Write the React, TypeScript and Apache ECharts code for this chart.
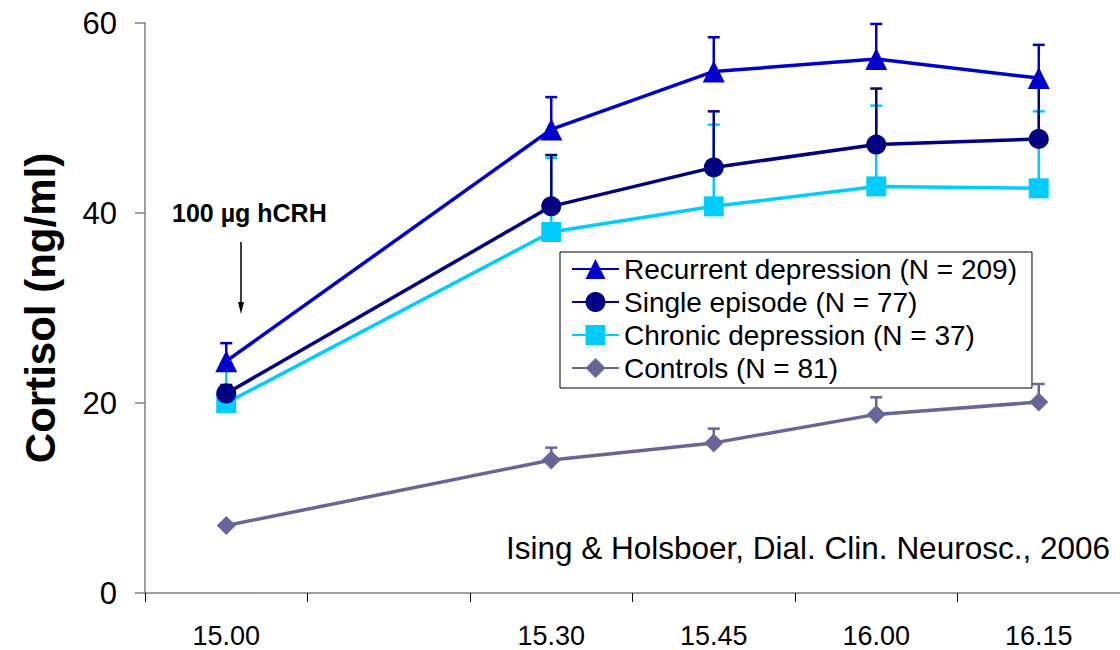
import React, { useEffect, useRef } from "react";
import * as echarts from "echarts";

// Sampling times (the 15.15 slot has no measurement)
const timeLabels = ["15.00", "", "15.30", "15.45", "16.00", "16.15"];

// Mean cortisol (ng/ml) per group
const recurrentMean = [24.4, null, 48.8, 54.9, 56.2, 54.2];
const singleMean = [21.0, null, 40.7, 44.8, 47.2, 47.8];
const chronicMean = [20.0, null, 38.0, 40.7, 42.8, 42.6];
const controlsMean = [7.1, null, 14.0, 15.8, 18.8, 20.1];

// Upper end of the error bar (mean + SEM)
const recurrentUpper = [26.3, null, 52.2, 58.5, 59.9, 57.7];
const singleUpper = [21.9, null, 46.1, 50.7, 53.1, 53.6];
const chronicUpper = [24.0, null, 45.8, 49.3, 51.3, 50.7];
const controlsUpper = [7.3, null, 15.3, 17.3, 20.6, 22.0];

const yTicks = [0, 20, 40, 60];

const FONT = 'Arial, "Liberation Sans", Helvetica, sans-serif';

type Group = {
  name: string;
  color: string;
  symbol: string;
  symbolSize: number;
  mean: (number | null)[];
  upper: (number | null)[];
};

const groups: Group[] = [
  { name: "Recurrent depression (N = 209)", color: "#0000CC", symbol: "triangle", symbolSize: 22, mean: recurrentMean, upper: recurrentUpper },
  { name: "Single episode (N = 77)", color: "#000080", symbol: "circle", symbolSize: 20, mean: singleMean, upper: singleUpper },
  { name: "Chronic depression (N = 37)", color: "#00CCFF", symbol: "rect", symbolSize: 20, mean: chronicMean, upper: chronicUpper },
  { name: "Controls (N = 81)", color: "#666699", symbol: "diamond", symbolSize: 19, mean: controlsMean, upper: controlsUpper },
];

function errorSeries(g: Group, z: number) {
  const data: number[][] = [];
  g.mean.forEach((m, i) => {
    const u = g.upper[i];
    if (m != null && u != null) data.push([i, m, u]);
  });
  return {
    type: "custom",
    name: g.name + " SEM",
    z,
    silent: true,
    data,
    renderItem: (params: any, api: any) => {
      const i = api.value(0);
      const lo = api.coord([i, api.value(1)]);
      const hi = api.coord([i, api.value(2)]);
      const cap = 6;
      return {
        type: "group",
        children: [
          {
            type: "line",
            shape: { x1: lo[0], y1: lo[1], x2: hi[0], y2: hi[1] },
            style: { stroke: g.color, lineWidth: 2.5 },
          },
          {
            type: "line",
            shape: { x1: hi[0] - cap, y1: hi[1], x2: hi[0] + cap, y2: hi[1] },
            style: { stroke: g.color, lineWidth: 2.5 },
          },
        ],
      };
    },
  };
}

function lineSeries(g: Group, z: number) {
  return {
    type: "line",
    name: g.name,
    z,
    data: g.mean,
    connectNulls: true,
    symbol: g.symbol,
    symbolSize: g.symbolSize,
    showAllSymbol: true,
    itemStyle: { color: g.color, borderWidth: 0 },
    lineStyle: { color: g.color, width: 3.5 },
  };
}

export default function App() {
  const ref = useRef<HTMLDivElement>(null);

  useEffect(() => {
    if (!ref.current) return;
    const chart = echarts.init(ref.current, undefined, { renderer: "svg" });

    const series: any[] = [];
    // draw order: controls first, recurrent on top
    const order = [3, 2, 1, 0];
    order.forEach((gi, k) => {
      series.push(errorSeries(groups[gi], 2 + k * 2));
    });
    order.forEach((gi, k) => {
      series.push(lineSeries(groups[gi], 10 + k * 2));
    });

    chart.setOption({
      animation: false,
      backgroundColor: "#ffffff",
      textStyle: { fontFamily: FONT },
      grid: { left: 145, right: -12, top: 23, bottom: 57, containLabel: false },
      legend: {
        data: groups.map((g) => g.name),
        orient: "vertical",
        left: 560,
        top: 252,
        padding: [3, 15, 6, 11],
        itemWidth: 47,
        itemHeight: 25,
        itemGap: 5,
        backgroundColor: "#ffffff",
        borderColor: "#000000",
        borderWidth: 1,
        textStyle: { fontFamily: FONT, fontSize: 28, color: "#000000" },
      },
      xAxis: {
        type: "category",
        data: timeLabels,
        boundaryGap: true,
        axisLine: { lineStyle: { color: "#808080", width: 1.5 } },
        axisTick: { show: true, alignWithLabel: false, length: 9, lineStyle: { color: "#000000", width: 1 }, inside: false },
        axisLabel: { fontFamily: FONT, fontSize: 27, color: "#000000", margin: 29, interval: 0 },
        splitLine: { show: false },
      },
      yAxis: {
        type: "value",
        min: 0,
        max: 60,
        interval: 20,
        name: "Cortisol (ng/ml)",
        nameLocation: "middle",
        nameGap: 84,
        nameRotate: 90,
        nameTextStyle: { fontFamily: FONT, fontSize: 42, fontWeight: "bold", color: "#000000" },
        axisLine: { show: true, lineStyle: { color: "#808080", width: 1.5 } },
        axisTick: { show: true, length: 10, lineStyle: { color: "#808080", width: 1.5 } },
        axisLabel: {
          fontFamily: FONT,
          fontSize: 31,
          color: "#000000",
          margin: 28,
          formatter: (v: number) => (yTicks.includes(v) ? String(v) : ""),
        },
        splitLine: { show: false },
      },
      graphic: [
        {
          type: "text",
          left: 172,
          top: 200,
          style: { text: "100 µg hCRH", font: `bold 25px ${FONT}`, fill: "#000000" },
        },
        {
          type: "line",
          shape: { x1: 241, y1: 242, x2: 241, y2: 306 },
          style: { stroke: "#000000", lineWidth: 1.5 },
        },
        {
          type: "polygon",
          shape: { points: [[238, 302], [244, 302], [241, 314]] },
          style: { fill: "#000000" },
        },
        {
          type: "text",
          right: 10,
          top: 532,
          style: {
            text: "Ising & Holsboer, Dial. Clin. Neurosc., 2006",
            font: `31.5px ${FONT}`,
            fill: "#000000",
          },
        },
      ],
      series,
    });

    return () => chart.dispose();
  }, []);

  return <div ref={ref} style={{ width: 1120, height: 650, position: "absolute", left: 0, top: 0 }} />;
}
